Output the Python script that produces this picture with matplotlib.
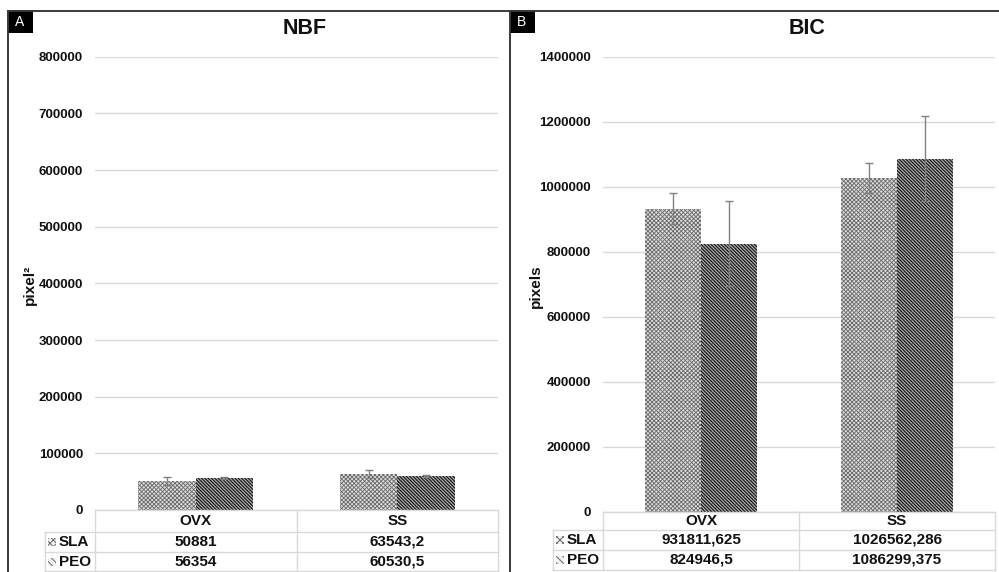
import matplotlib
matplotlib.use('Agg')
import matplotlib.pyplot as plt
import matplotlib.transforms as mtransforms
from matplotlib.lines import Line2D
from matplotlib.patches import Rectangle
from matplotlib.ticker import FormatStrFormatter
import numpy as np

plt.rcParams['font.family'] = ['Liberation Sans', 'DejaVu Sans']

groups = ['OVX', 'SS']
series = ['SLA', 'PEO']

# NBF panel (pixel^2)
nbf_sla = [50881, 63543.2]
nbf_peo = [56354, 60530.5]
nbf_sla_err = [7000, 7000]
nbf_peo_err = [2000, 2000]

# BIC panel (pixels)
bic_sla = [931811.625, 1026562.286]
bic_peo = [824946.5, 1086299.375]
bic_sla_err = [48000, 46000]
bic_peo_err = [130000, 130000]

W, H = 999, 572
fig = plt.figure(figsize=(W / 100, H / 100), dpi=100)

# bar fill styles (pattern fills approximated with hatches)
styles = {
    'SLA': dict(color='#dcdcdc', edgecolor='#6a6a6a', hatch='xxxxxxxx', lw=0.6),
    'PEO': dict(color='#b4b4b4', edgecolor='#1a1a1a', hatch='\\' * 10, lw=0.9),
}
grid_col = '#d9d9d9'
frame_col = '#3a3a3a'
text_col = '#111111'


def fx(px):
    return px / W


def fy(py):
    return 1 - py / H


def fmt(v):
    return ('%.10g' % v).replace('.', ',')


def hatched_bar(ax, x, h, w, name):
    st = styles[name]
    with plt.rc_context({'hatch.linewidth': st['lw']}):
        ax.bar(x, h, w, color=st['color'], edgecolor=st['edgecolor'],
               hatch=st['hatch'], linewidth=0, zorder=2)


def panel(left, right, top, bottom, ymax, step, sla, peo, sla_err, peo_err,
          rows, label_left, title, ylabel, ylabel_x):
    ax = fig.add_axes([fx(left), fy(bottom), (right - left) / W, (bottom - top) / H])
    x = np.arange(len(groups))
    w = 0.285
    hatched_bar(ax, x - w / 2, sla, w, 'SLA')
    hatched_bar(ax, x + w / 2, peo, w, 'PEO')
    ax.errorbar(x - w / 2, sla, yerr=sla_err, fmt='none', ecolor='#808080',
                elinewidth=1, capsize=3, capthick=1, zorder=3)
    ax.errorbar(x + w / 2, peo, yerr=peo_err, fmt='none', ecolor='#808080',
                elinewidth=1, capsize=3, capthick=1, zorder=3)

    ax.set_xlim(-0.5, len(groups) - 0.5)
    ax.set_ylim(0, ymax)
    ax.set_yticks(np.arange(0, ymax + 1, step))
    ax.yaxis.set_major_formatter(FormatStrFormatter('%d'))
    ax.yaxis.grid(True, color=grid_col, lw=1)
    ax.set_axisbelow(True)
    for s in ax.spines.values():
        s.set_visible(False)
    ax.tick_params(left=False, bottom=False, labelbottom=False, length=0,
                   pad=8.5, labelsize=9.5, labelcolor=text_col)
    for t in ax.get_yticklabels():
        t.set_fontweight('bold')

    # data table under the plot
    tr = mtransforms.blended_transform_factory(ax.transAxes, fig.transFigure)
    lx = (label_left - left) / (right - left)
    r0, r1, r2, r3 = rows
    kw = dict(transform=tr, color=grid_col, lw=1, clip_on=False)
    ax.add_line(Line2D([0, 1], [fy(r0), fy(r0)], **kw))
    for r in (r1, r2, r3):
        ax.add_line(Line2D([lx, 1], [fy(r), fy(r)], **kw))
    for xv in (0, 0.5, 1):
        ax.add_line(Line2D([xv, xv], [fy(r0), fy(r3)], **kw))
    ax.add_line(Line2D([lx, lx], [fy(r1), fy(r3)], **kw))

    tk = dict(transform=tr, ha='center', va='center', fontsize=11,
              fontweight='bold', color=text_col)
    for i, g in enumerate(groups):
        xc = (i + 0.5) / len(groups)
        ax.text(xc, fy((r0 + r1) / 2), g, **tk)
        ax.text(xc, fy((r1 + r2) / 2), fmt(sla[i]), **tk)
        ax.text(xc, fy((r2 + r3) / 2), fmt(peo[i]), **tk)

    for name, (ra, rb) in zip(series, [(r1, r2), (r2, r3)]):
        st = styles[name]
        yc = (ra + rb) / 2
        with plt.rc_context({'hatch.linewidth': 0.7}):
            key = Rectangle((fx(label_left + 3), fy(yc + 4)), 8 / W, 8 / H,
                            transform=fig.transFigure, facecolor='#f0f0f0',
                            edgecolor='#6a6a6a', hatch=st['hatch'][:5], lw=0)
        fig.add_artist(key)
        fig.text(fx(label_left + 14), fy(yc), name, ha='left', va='center',
                 fontsize=11, fontweight='bold', color=text_col)

    # title and axis label
    fig.text(fx((left + right) / 2 + 8), fy(28), title, ha='center', va='center',
             fontsize=15.5, fontweight='bold', color=text_col)
    fig.text(fx(ylabel_x), fy((top + bottom) / 2 + 2), ylabel, rotation=90,
             ha='center', va='center', fontsize=11, fontweight='bold',
             color=text_col)
    return ax


panel(95, 498, 56.7, 510, 800000, 100000, nbf_sla, nbf_peo, nbf_sla_err,
      nbf_peo_err, (510, 532, 552, 571), 45, 'NBF', 'pixel²', 30)
panel(603, 995, 56.7, 511.7, 1400000, 200000, bic_sla, bic_peo, bic_sla_err,
      bic_peo_err, (511.7, 529.5, 550, 570), 553, 'BIC', 'pixels', 536)

# panel frames and letter tags
fig.add_artist(Line2D([fx(8), 1], [fy(10.5), fy(10.5)], color=frame_col, lw=1.4))
for px in (8, 510):
    fig.add_artist(Line2D([fx(px), fx(px)], [fy(10.5), 0], color=frame_col, lw=1.4))
for px, tag in [(8, 'A'), (510, 'B')]:
    fig.add_artist(Rectangle((fx(px), fy(33)), 25 / W, 22.5 / H,
                             transform=fig.transFigure, facecolor='black', lw=0))
    fig.text(fx(px + 12), fy(21.5), tag, color='white', ha='center', va='center',
             fontsize=10)

fig.savefig('out.png', dpi=100)
